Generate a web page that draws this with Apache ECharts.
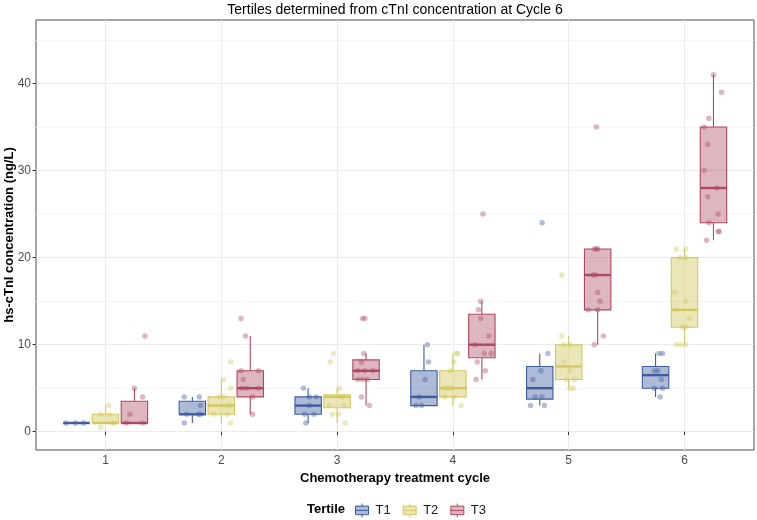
<!DOCTYPE html>
<html><head><meta charset="utf-8">
<script src="https://cdn.jsdelivr.net/npm/echarts@6/dist/echarts.min.js"></script>
<style>html,body{margin:0;padding:0;background:#fff}#c{width:757px;height:520px}</style>
</head><body><div id="c"></div>
<script>
const cycles = [1, 2, 3, 4, 5, 6];
const xTickLabels = ['1', '2', '3', '4', '5', '6'];
const yTicks = [0, 10, 20, 30, 40];
const yMinorTicks = [5, 15, 25, 35, 45];
const tertiles = ['T1', 'T2', 'T3'];

// box stats per cycle: [lower whisker, Q1, median, Q3, upper whisker]
const t1Box = [[1,1,1,1,1],[1,2,2,3.5,4],[1,2,3,4,5],[3,3,4,7,10],[3,3.75,5,7.5,9],[4,5,6.5,7.5,9]];
const t2Box = [[1,1,1,2,3],[1,2,3,4,6],[1,2.75,4,4.25,5],[3,4,5,7,9],[5,6,7.5,10,11],[10,12,14,20,21]];
const t3Box = [[1,1,1,3.5,5],[2,4,5,7,11],[3,6,7,8.25,9],[6,8.5,10,13.5,15],[10,14,18,21,21],[22,24,28,35,41]];

// observations: [cycle, value, horizontal jitter]
const t1Pts = [
 [1,1,-0.09],[1,1,-0.01],[1,1,0.06],
 [2,4,-0.07],[2,4,0.06],[2,3,0.07],[2,2,-0.05],[2,2,0.05],[2,2,0.07],[2,1,-0.07],
 [3,5,-0.04],[3,4,0.01],[3,4,0.07],[3,3,0.01],[3,2,-0.03],[3,2,0.05],[3,1,-0.02],
 [4,10,0.03],[4,8,0.04],[4,6,0.01],[4,4,-0.04],[4,3,-0.07],[4,3,-0.02],
 [5,24,0.02],[5,9,0.07],[5,7,0.01],[5,6,-0.06],[5,4,-0.04],[5,4,0.02],[5,3,-0.08],[5,3,0.04],
 [6,9,0.03],[6,9,0.06],[6,7,-0.01],[6,7,0.02],[6,6,0.05],[6,5,-0.01],[6,5,0.06],[6,4,0.04]
];
const t2Pts = [
 [1,2,-0.04],[1,2,0.03],[1,3,0.03],[1,0.5,-0.04],[1,1,0.06],[1,1,0.08],
 [2,8,0.08],[2,6,0.02],[2,5,0.08],[2,4,-0.02],[2,4,0.02],[2,3,0.05],[2,3,0.08],[2,2,-0.07],[2,2,0.05],[2,1,0.08],
 [3,9,-0.03],[3,8,-0.06],[3,5,0.02],[3,4,0.04],[3,3,-0.07],[3,3,0.06],[3,2,-0.04],[3,2,0.01],[3,1,0.07],
 [4,9,0.03],[4,9,0.04],[4,8,0.01],[4,7,-0.02],[4,5,-0.07],[4,5,-0.04],[4,5,-0.01],[4,4,-0.07],[4,4,0.01],[4,3,0.07],
 [5,18,-0.06],[5,11,-0.06],[5,10,-0.04],[5,10,0.01],[5,8,-0.04],[5,7,0.01],[5,6,-0.02],[5,6,0.05],[5,5,0.01],[5,5,0.04],
 [6,21,-0.07],[6,21,0.01],[6,20,-0.04],[6,20,0.01],[6,16,-0.09],[6,15,0.01],[6,14,-0.07],[6,13,0.04],[6,12,-0.02],[6,12,0.01],[6,10,-0.07],[6,10,-0.03],[6,10,0.01]
];
const t3Pts = [
 [1,11,0.09],[1,5,0.0],[1,4,0.07],[1,2,-0.04],[1,1,-0.07],[1,1,0.07],
 [2,13,-0.08],[2,11,-0.04],[2,7,-0.08],[2,7,0.07],[2,6,-0.06],[2,5,-0.07],[2,5,-0.03],[2,5,0.07],[2,4,0.02],[2,2,0.02],
 [3,13,-0.03],[3,13,-0.01],[3,9,-0.02],[3,8,-0.04],[3,7,-0.07],[3,7,-0.01],[3,7,0.06],[3,6,-0.07],[3,6,-0.03],[3,6,0.01],[3,4,-0.04],[3,3,0.03],
 [4,25,0.01],[4,15,-0.01],[4,14,-0.03],[4,13,-0.01],[4,11,0.06],[4,10,-0.06],[4,9,0.02],[4,9,0.08],[4,8,-0.04],[4,7,0.03],[4,6,-0.05],
 [5,35,-0.01],[5,21,-0.03],[5,21,-0.01],[5,21,0.0],[5,18,-0.04],[5,18,-0.02],[5,16,0.0],[5,15,0.02],[5,14,-0.08],[5,14,0.0],[5,11,0.05],[5,10,-0.03],
 [6,41,0.0],[6,39,0.07],[6,36,-0.04],[6,35,-0.08],[6,33,-0.05],[6,30,-0.08],[6,28,0.03],[6,27,-0.05],[6,25,0.04],[6,24,-0.04],[6,23,0.04],[6,23,0.05],[6,22,-0.06]
];

const boxes = [t1Box, t2Box, t3Box];
const points = [t1Pts, t2Pts, t3Pts];
const lineColors = ['#3f5c9f', '#d3c860', '#ad4862'];
const fillColors = ['rgba(63,92,159,0.42)', 'rgba(211,200,96,0.45)', 'rgba(173,72,98,0.40)'];
const pointColors = ['rgba(63,92,159,0.5)', 'rgba(211,200,96,0.5)', 'rgba(173,72,98,0.5)'];
const dodge = [-0.25, 0, 0.25];
const boxW = 0.228;
const FONT = 'Liberation Sans, Arial, Helvetica, sans-serif';

function boxRenderer(k) {
  return function (params, api) {
    const x = api.value(0) + dodge[k];
    const lo = api.value(1), q1 = api.value(2), md = api.value(3), q3 = api.value(4), hi = api.value(5);
    const tl = api.coord([x - boxW / 2, q3]);
    const br = api.coord([x + boxW / 2, q1]);
    const cHi = api.coord([x, hi]);
    const cLo = api.coord([x, lo]);
    const mL = api.coord([x - boxW / 2, md]);
    const mR = api.coord([x + boxW / 2, md]);
    const stroke = lineColors[k];
    return {
      type: 'group',
      children: [
        { type: 'line', shape: { x1: cHi[0], y1: cHi[1], x2: cHi[0], y2: tl[1] }, style: { stroke: stroke, lineWidth: 1.1 } },
        { type: 'line', shape: { x1: cLo[0], y1: br[1], x2: cLo[0], y2: cLo[1] }, style: { stroke: stroke, lineWidth: 1.1 } },
        { type: 'rect', shape: { x: tl[0], y: tl[1], width: br[0] - tl[0], height: br[1] - tl[1] }, style: { fill: fillColors[k], stroke: stroke, lineWidth: 1.1 } },
        { type: 'line', shape: { x1: mL[0], y1: mL[1], x2: mR[0], y2: mR[1] }, style: { stroke: stroke, lineWidth: 2.4 } }
      ]
    };
  };
}

const series = [];
tertiles.forEach(function (name, k) {
  series.push({
    name: name,
    type: 'custom',
    renderItem: boxRenderer(k),
    encode: { x: 0, y: [1, 2, 3, 4, 5] },
    itemStyle: { color: fillColors[k], borderColor: lineColors[k] },
    data: boxes[k].map(function (b, i) { return [cycles[i]].concat(b); }),
    z: 2,
    silent: true
  });
});
tertiles.forEach(function (name, k) {
  series.push({
    name: name,
    type: 'scatter',
    symbol: 'circle',
    symbolSize: 5.5,
    itemStyle: { color: pointColors[k] },
    data: points[k].map(function (p) { return [p[0] + dodge[k] + p[2], p[1]]; }),
    z: 3,
    silent: true
  });
});

const keyIcon = 'path://M6.5,0L6.5,2.6M0,2.6L13,2.6L13,11.2L0,11.2ZM0,6.9L13,6.9M6.5,11.2L6.5,13.8';

const option = {
  animation: false,
  backgroundColor: '#ffffff',
  title: {
    text: 'Tertiles determined from cTnI concentration at Cycle 6',
    left: 395, top: 3, padding: 0, textAlign: 'center',
    textStyle: { fontFamily: FONT, fontSize: 14, fontWeight: 'normal', color: '#000' }
  },
  graphic: [{
    type: 'text', left: 307, top: 503,
    style: { text: 'Tertile', fontFamily: FONT, fontSize: 13, fontWeight: 'bold', fill: '#000' }
  }],
  legend: {
    left: 355, top: 503, padding: 0,
    itemWidth: 13, itemHeight: 14, itemGap: 12,
    selectedMode: false,
    textStyle: { fontFamily: FONT, fontSize: 13, color: '#1a1a1a', padding: [0, 0, 0, 2] },
    data: tertiles.map(function (t, k) {
      return { name: t, icon: keyIcon, itemStyle: { color: fillColors[k], borderColor: lineColors[k], borderWidth: 1 } };
    })
  },
  grid: { left: 36, right: 3, top: 20, bottom: 70, containLabel: false, outerBoundsMode: 'none',
    show: true, borderColor: '#4d4d4d', borderWidth: 1, backgroundColor: '#fff' },
  xAxis: {
    type: 'value', min: 0.4, max: 6.6,
    axisLine: { show: false },
    axisTick: { show: true, customValues: cycles, length: 3.5, lineStyle: { color: '#333' } },
    axisLabel: { customValues: cycles, formatter: function (v) { return xTickLabels[cycles.indexOf(v)]; },
      fontFamily: FONT, fontSize: 12, color: '#4d4d4d', margin: 5 },
    splitLine: { show: true, lineStyle: { color: '#ebebeb', width: 1 } },
    name: 'Chemotherapy treatment cycle', nameLocation: 'middle', nameGap: 20,
    nameTextStyle: { fontFamily: FONT, fontSize: 13, fontWeight: 'bold', color: '#000' }
  },
  yAxis: [{
    type: 'value', min: -2.1, max: 47.3,
    axisLine: { show: false },
    axisTick: { show: true, customValues: yTicks, length: 3.5, lineStyle: { color: '#333' } },
    axisLabel: { customValues: yTicks, fontFamily: FONT, fontSize: 12, color: '#4d4d4d', margin: 5 },
    splitLine: { show: true, lineStyle: { color: '#ebebeb', width: 1 } },
    name: 'hs-cTnI concentration (ng/L)', nameLocation: 'middle', nameGap: 20, nameMoveOverlap: false,
    nameTextStyle: { fontFamily: FONT, fontSize: 13, fontWeight: 'bold', color: '#000' }
  }, {
    type: 'value', min: -2.1, max: 47.3, position: 'left',
    axisLine: { show: false },
    axisTick: { show: false, customValues: yMinorTicks },
    axisLabel: { show: false },
    splitLine: { show: true, lineStyle: { color: '#f5f5f5', width: 1 } }
  }],
  series: series
};

const chart = echarts.init(document.getElementById('c'), null, { renderer: 'canvas' });
chart.setOption(option);
</script></body></html>
